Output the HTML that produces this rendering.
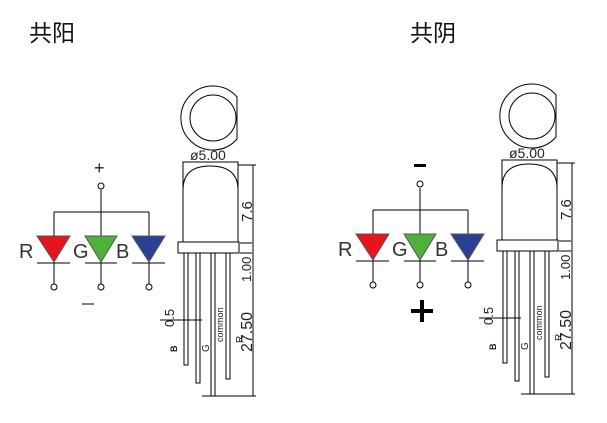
<!DOCTYPE html>
<html><head><meta charset="utf-8"><style>
html,body{margin:0;padding:0;background:#fff;}
svg{display:block;}
text{font-family:"Liberation Sans","Noto Sans CJK SC",sans-serif;}
</style></head><body>
<svg width="607" height="423" viewBox="0 0 607 423" xmlns="http://www.w3.org/2000/svg">
<defs>
<g id="sch" stroke="#000" stroke-width="1" fill="none">
  <line x1="101" y1="190" x2="101" y2="212"/>
  <line x1="54" y1="212" x2="149" y2="212"/>
  <line x1="54" y1="212" x2="54" y2="284"/>
  <line x1="101" y1="212" x2="101" y2="284"/>
  <line x1="149" y1="212" x2="149" y2="284"/>
  <circle cx="101" cy="186" r="3" fill="#fff"/>
  <polygon points="37,236 70,236 54,262" fill="#e8141c" stroke="#555"/>
  <polygon points="85,236 117,236 101,262" fill="#4fb03a" stroke="#555"/>
  <polygon points="132,236 165,236 149,262" fill="#2a3f96" stroke="#555"/>
  <line x1="37" y1="263" x2="70" y2="263"/>
  <line x1="85" y1="263" x2="117" y2="263"/>
  <line x1="132" y1="263" x2="165" y2="263"/>
  <circle cx="54" cy="287" r="3" fill="#fff"/>
  <circle cx="101" cy="287" r="3" fill="#fff"/>
  <circle cx="149" cy="287" r="3" fill="#fff"/>
  <text x="19" y="258" font-size="20" fill="#333" stroke="none">R</text>
  <text x="73" y="258" font-size="20" fill="#333" stroke="none">G</text>
  <text x="116" y="258" font-size="20" fill="#333" stroke="none">B</text>
</g>
<g id="led" stroke="#000" stroke-width="1" fill="none">
  <path d="M237,97 A32,32 0 1 0 237,139 Z"/>
  <circle cx="213" cy="118" r="23"/>
  <rect x="183" y="162" width="55" height="80"/>
  <path d="M183,190 Q183,166 210,166 Q238,166 238,190"/>
  <rect x="178" y="242" width="61" height="11" fill="#fff"/>
  <rect x="184" y="253" width="4" height="112"/>
  <rect x="196" y="253" width="4" height="130"/>
  <rect x="211" y="253" width="4" height="143"/>
  <rect x="226" y="253" width="4" height="126"/>
  <line x1="253" y1="165" x2="253" y2="396"/>
  <line x1="238" y1="165" x2="256" y2="165"/>
  <line x1="202" y1="396" x2="256" y2="396"/>
  <line x1="240" y1="243" x2="252" y2="243"/>
  <line x1="240" y1="253" x2="252" y2="253"/>
  <line x1="160" y1="320" x2="202" y2="320"/>
  <text x="190" y="160" font-size="14" fill="#222" stroke="none">ø5.00</text>
  <text transform="translate(252,222) rotate(-90)" font-size="15" fill="#222" stroke="none">7.6</text>
  <text transform="translate(251,282) rotate(-90)" font-size="13" fill="#222" stroke="none">1.00</text>
  <text transform="translate(252,352) rotate(-90)" font-size="16" fill="#222" stroke="none">27.50</text>
  <text transform="translate(243,343) rotate(-90)" font-size="10" fill="#222" stroke="none">R</text>
  <text transform="translate(223,342) rotate(-90)" font-size="9" fill="#222" stroke="none">common</text>
  <text transform="translate(174,327) rotate(-90)" font-size="13" fill="#222" stroke="none">0.5</text>
  <text transform="translate(209,352) rotate(-90)" font-size="10" fill="#222" stroke="none">G</text>
  <text transform="translate(177,352) rotate(-90)" font-size="9" fill="#222" stroke="none" font-weight="bold">B</text>
</g>
</defs>
<text x="29" y="41" font-size="23" fill="#111">共阳</text>
<text x="410" y="41" font-size="23" fill="#111">共阴</text>
<use href="#sch"/>
<use href="#led"/>
<text x="94" y="174" font-size="18" fill="#222">+</text>
<line x1="82" y1="304" x2="94" y2="304" stroke="#000"/>
<g transform="translate(319,-2)">
  <use href="#sch"/>
  <use href="#led"/>
</g>
<rect x="414" y="164" width="12" height="3" fill="#000"/>
<rect x="420" y="300" width="4" height="22" fill="#000"/>
<rect x="411" y="309" width="22" height="4" fill="#000"/>
</svg>
</body></html>
